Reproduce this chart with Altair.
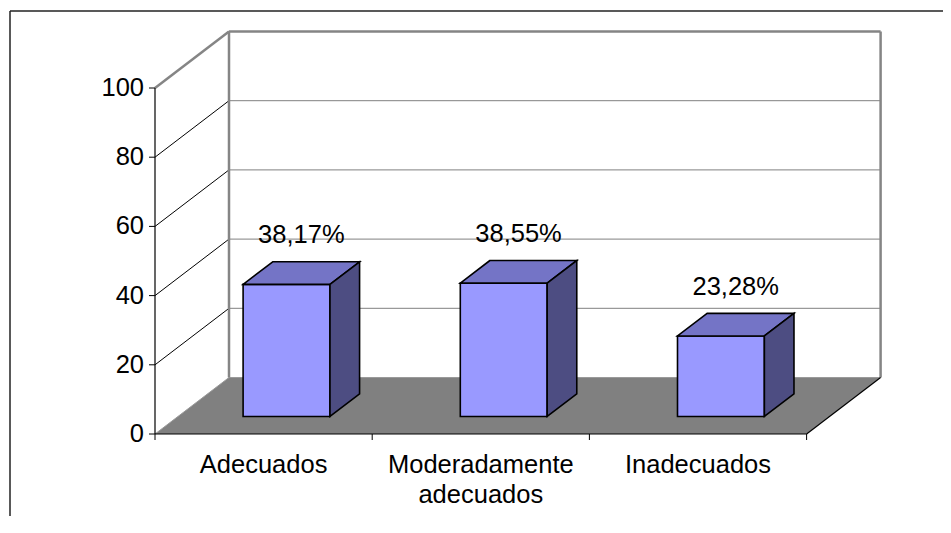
import altair as alt
import pandas as pd

# ---- data ----
categories = ["Adecuados", "Moderadamente\nadecuados", "Inadecuados"]
values = [38.17, 38.55, 23.28]
value_labels = ["38,17%", "38,55%", "23,28%"]
y_ticks = [0, 20, 40, 60, 80, 100]
grid_values = [20, 40, 60, 80]

# ---- geometry of the pseudo-3D projection ----
W, H = 933, 505
PX_PER_CAT = 217.2
PX_PER_VAL = 3.46
ORIGIN_X = 145.0
ORIGIN_Y = 423.0
DX = 74 / PX_PER_CAT        # depth shift in category units
DY = 56.5 / PX_PER_VAL      # depth shift in value units
F0, F1 = 0.31, 0.71         # bar depth range (fraction of floor depth)
BAR_W = 0.4
NCAT = len(categories)
TICK_X = 6 / PX_PER_CAT
TICK_Y = 6 / PX_PER_VAL
FONT = "Liberation Sans"
FS = 25.5

x_scale = alt.Scale(domain=[-ORIGIN_X / PX_PER_CAT, (W - ORIGIN_X) / PX_PER_CAT], nice=False, zero=False)
y_scale = alt.Scale(domain=[-(H - ORIGIN_Y) / PX_PER_VAL, ORIGIN_Y / PX_PER_VAL], nice=False, zero=False)


def X(f):
    return alt.X(f"{f}:Q", scale=x_scale, axis=None)


def Y(f):
    return alt.Y(f"{f}:Q", scale=y_scale, axis=None)


def seg_chart(rows, color, width):
    df = pd.DataFrame(rows, columns=["x", "y", "x2", "y2"])
    return alt.Chart(df).mark_rule(color=color, strokeWidth=width).encode(
        x=X("x"), y=Y("y"), x2="x2", y2="y2"
    )


# back wall grid lines
grid_rows = [(DX, v + DY, NCAT + DX, v + DY) for v in grid_values]
# left wall diagonals
diag_rows = [(0, v, DX, v + DY) for v in grid_values]
# wall edges (gray, thicker)
edge_rows = [
    (DX, 100 + DY, NCAT + DX, 100 + DY),
    (DX, DY, DX, 100 + DY),
    (NCAT + DX, DY, NCAT + DX, 100 + DY),
    (0, 100, DX, 100 + DY),
]
floor_edge_rows = [(DX, DY, NCAT + DX, DY), (0, 0, DX, DY)]
axis_rows = [(0, 0, 0, 100), (0, 0, NCAT, 0), (NCAT, 0, NCAT + DX, DY)]
ytick_rows = [(0, v, -TICK_X, v) for v in y_ticks]
xtick_rows = [(i, 0, i, -TICK_Y) for i in range(NCAT + 1)]

# floor (horizontal parallelogram)
floor_df = pd.DataFrame({"y": [0, DY], "x": [0, DX], "x2": [NCAT, NCAT + DX]})
floor = alt.Chart(floor_df).mark_area(orient="horizontal", color="#808080").encode(
    y=Y("y"), x=X("x"), x2="x2"
)

# bars
front_rows, top_rows, side_rows = [], [], []
for i, v in enumerate(values):
    xl = i + 0.5 - BAR_W / 2
    xr = i + 0.5 + BAR_W / 2
    front_rows.append({"bar": i, "x": xl + F0 * DX, "x2": xr + F0 * DX, "y": F0 * DY, "y2": v + F0 * DY})
    for f in (F0, F1):
        top_rows.append({"bar": i, "y": v + f * DY, "x": xl + f * DX, "x2": xr + f * DX})
        side_rows.append({"bar": i, "x": xr + f * DX, "y": f * DY, "y2": v + f * DY})

front = alt.Chart(pd.DataFrame(front_rows)).mark_rect(
    color="#9999FF", stroke="black", strokeWidth=1.6
).encode(x=X("x"), x2="x2", y=Y("y"), y2="y2")

top = alt.Chart(pd.DataFrame(top_rows)).mark_area(
    orient="horizontal", color="#7474C6", stroke="black", strokeWidth=1.6
).encode(y=Y("y"), x=X("x"), x2="x2", detail="bar:N")

side = alt.Chart(pd.DataFrame(side_rows)).mark_area(
    orient="vertical", color="#4D4D82", stroke="black", strokeWidth=1.6
).encode(x=X("x"), y=Y("y"), y2="y2", detail="bar:N")

# texts
ylab = alt.Chart(pd.DataFrame({"v": y_ticks, "x": [0] * len(y_ticks)})).mark_text(
    align="right", baseline="middle", dx=-11, font=FONT, fontSize=FS, color="black"
).encode(x=X("x"), y=Y("v"), text="v:Q")

cat_df = pd.DataFrame({"label": categories, "x": [i + 0.5 for i in range(NCAT)], "y": [0] * NCAT})
catlab = alt.Chart(cat_df).mark_text(
    align="center", baseline="alphabetic", dy=38.5, lineBreak="\n", lineHeight=30,
    font=FONT, fontSize=FS, color="black"
).encode(x=X("x"), y=Y("y"), text="label:N")

MID = (F0 + F1) / 2
val_df = pd.DataFrame({
    "label": value_labels,
    "x": [i + 0.5 + MID * DX for i in range(NCAT)],
    "y": [v + MID * DY for v in values],
})
vallab = alt.Chart(val_df).mark_text(
    align="center", baseline="alphabetic", dy=-30, font=FONT, fontSize=FS, color="black"
).encode(x=X("x"), y=Y("y"), text="label:N")

# outer frame (left and top border of the chart area)
one = pd.DataFrame({"a": [0]})
frame_left = alt.Chart(one).mark_rule(color="#222222", strokeWidth=1.5).encode(
    x=alt.value(0), y=alt.value(0), y2=alt.value(H)
)
frame_top = alt.Chart(one).mark_rule(color="#222222", strokeWidth=1.5).encode(
    x=alt.value(0), x2=alt.value(W), y=alt.value(0)
)

chart = alt.layer(
    frame_left,
    frame_top,
    seg_chart(grid_rows, "#808080", 1),
    seg_chart(diag_rows, "black", 1),
    floor,
    seg_chart(floor_edge_rows, "#9A9A9A", 1),
    seg_chart(edge_rows, "#858585", 2.5),
    front,
    top,
    side,
    seg_chart(axis_rows, "black", 1.2),
    seg_chart(ytick_rows, "black", 1),
    seg_chart(xtick_rows, "black", 1),
    ylab,
    catlab,
    vallab,
).properties(
    width=W,
    height=H,
    autosize=alt.AutoSizeParams(type="none"),
    padding={"left": 2, "top": 3, "right": 0, "bottom": 0},
    background="white",
).configure_view(stroke=None)

chart.save("out.html", embed_options={"renderer": "svg", "actions": False})
